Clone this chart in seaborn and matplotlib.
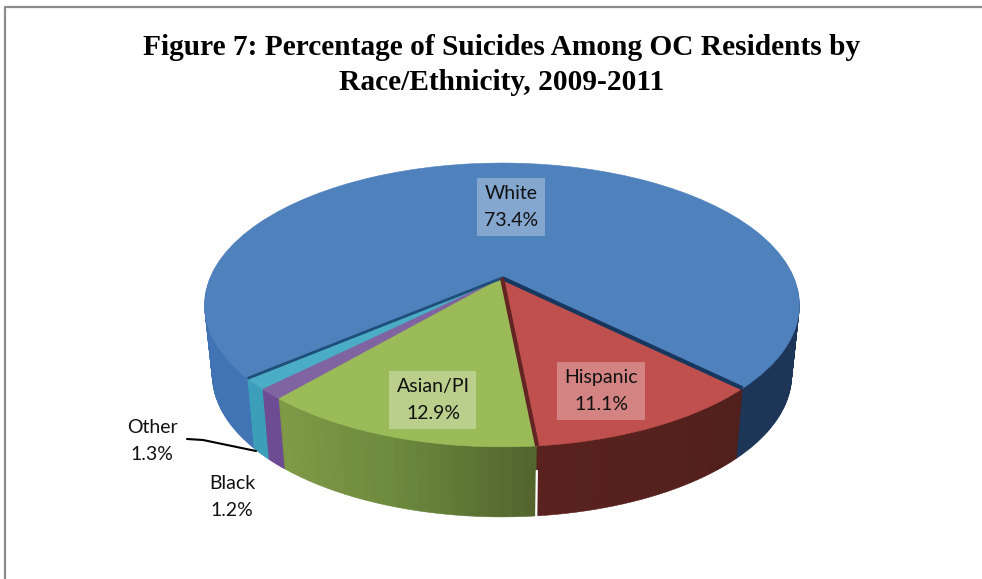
import numpy as np
import matplotlib
matplotlib.use("Agg")
import matplotlib.pyplot as plt
from matplotlib.lines import Line2D
from matplotlib.transforms import Transform
import seaborn as sns

# chart values, in drawing order (counter clockwise from the white/hispanic cut)
groups = ["White", "Other", "Black", "Asian/PI", "Hispanic"]
shares = [73.4, 1.3, 1.2, 12.9, 11.1]

top_colors = ["#4f81bd", "#4bacc6", "#8064a2", "#9bbb59", "#c0504d"]
side_colors = [
    ["#1d3658", "#1d3658", "#3f72b2", "#4074b4"],
    ["#3c9fba", "#3c9fba"],
    ["#6e4c93", "#6e4c93"],
    ["#7f9a46", "#6e8a3e", "#52662e"],
    ["#5a221f", "#51201c"],
]

title = "Figure 7: Percentage of Suicides Among OC Residents by\nRace/Ethnicity, 2009-2011"

START = -44.4
STEPS = 24
DEPTH = 70

sns.set_theme(style="white")
plt.rcParams["font.family"] = ["Lato", "DejaVu Sans"]


class Tilt(Transform):
    # unit pie -> picture pixels, with some perspective so the front looks bigger
    input_dims = 2
    output_dims = 2

    def __init__(self, drop=0):
        super().__init__()
        self.drop = drop

    def transform_non_affine(self, xy):
        xy = np.asarray(xy, dtype=float)
        s = 1 + 0.19 * xy[:, 1]
        # lower layers are a bit narrower
        wide = 292 * (1 - 0.00037 * self.drop)
        return np.column_stack((502 + wide * xy[:, 0] / s, 278 - 136.8 * xy[:, 1] / s + self.drop))


fig = plt.figure(figsize=(9.82, 5.79), dpi=100, facecolor="white")
ax = fig.add_axes([0, 0, 1, 1])

# side of the pie: a stack of pies, each slice cut up so the shade can change
fine_shares = []
fine_colors = []
for share, blend in zip(shares, side_colors):
    fine_shares += [share / STEPS] * STEPS
    fine_colors += sns.blend_palette(blend, STEPS)

for drop in range(DEPTH, 0, -1):
    wedges, _ = ax.pie(fine_shares, colors=fine_colors, startangle=START, counterclock=True)
    for w, c in zip(wedges, fine_colors):
        w.set_transform(Tilt(drop) + ax.transData)
        w.set_edgecolor(c)
        w.set_linewidth(0.4)

# top of the pie
wedges, _ = ax.pie(shares, colors=top_colors, startangle=START, counterclock=True)
for w, c in zip(wedges, top_colors):
    w.set_transform(Tilt() + ax.transData)
    w.set_edgecolor(c)
    w.set_linewidth(0.4)

# dark cuts between the slices
cuts = START + np.cumsum([0] + shares) * 360 / sum(shares)
cut_styles = {0: ("#17375e", 3), 1: ("#1f4e79", 2), 4: ("#632423", 3)}
for i, (col, lw) in cut_styles.items():
    a = np.radians(cuts[i])
    ax.plot([0, np.cos(a)], [0, np.sin(a)], color=col, lw=lw, solid_capstyle="butt",
            transform=Tilt() + ax.transData)

# the green and red sides come apart a little towards the bottom
a = np.radians(cuts[4])
rim = [[np.cos(a), np.sin(a)]]
gap_top = Tilt(25).transform_non_affine(np.array(rim))[0]
gap_end = Tilt(DEPTH + 1).transform_non_affine(np.array(rim))[0]
ax.plot([gap_top[0], gap_end[0]], [gap_top[1], gap_end[1]], color="white", lw=1.6)

ax.set_xlim(0, 982)
ax.set_ylim(579, 0)
ax.set_axis_off()

# labels
label_pos = {"White": (511, 207), "Asian/PI": (433, 400), "Hispanic": (601, 391),
             "Other": (152, 441), "Black": (232, 497)}
boxed = ["White", "Asian/PI", "Hispanic"]
for name, share in zip(groups, shares):
    x, y = label_pos[name]
    kw = {}
    if name in boxed:
        kw["bbox"] = dict(facecolor="white", alpha=0.3, edgecolor="none", pad=5)
    ax.text(x, y, f"{name}\n{share}%", ha="center", va="center", fontsize=14,
            color="#111111", linespacing=1.65, **kw)

ax.plot([187, 203, 256], [439, 440, 451], color="black", lw=1.5)

ax.text(502, 65, title, ha="center", va="center", fontsize=21.2, fontweight="bold",
        family="Liberation Serif", color="black", linespacing=1.38)

# frame of the page (only top and left are in the crop)
fig.add_artist(Line2D([5 / 982, 5 / 982, 1], [0, 1 - 7 / 579, 1 - 7 / 579], color="#8c8c8c", lw=1.6))

fig.savefig("out.png", dpi=100)
